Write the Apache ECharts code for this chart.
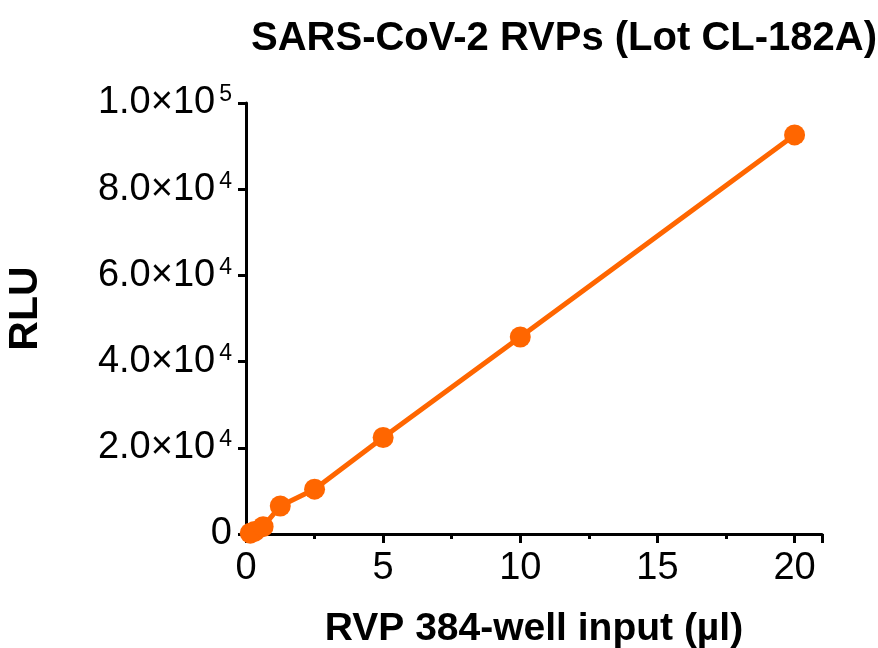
<!DOCTYPE html>
<html><head><meta charset="utf-8">
<script src="https://cdn.jsdelivr.net/npm/echarts@6/dist/echarts.min.js"></script>
<style>html,body{margin:0;padding:0;background:#fff}#c{width:878px;height:648px}</style>
</head><body><div id="c"></div>
<script>
const inputs = [0.156, 0.3125, 0.625, 1.25, 2.5, 5, 10, 20];
const rlu = [200, 600, 1700, 6500, 10400, 22400, 45700, 92600];
const xTickStep = 5;
const yTickStep = 20000;

const chart = echarts.init(document.getElementById('c'));
const font = 'Liberation Sans, Arial, sans-serif';
chart.setOption({
  animation: false,
  title: {
    text: 'SARS-CoV-2 RVPs (Lot CL-182A)',
    left: 559, top: 14, textAlign: 'center',
    textStyle: {fontFamily: font, fontWeight: 'bold', fontSize: 40, color: '#000'}
  },
  grid: {left: 246, right: 56, top: 103, bottom: 114, containLabel: false, outerBoundsMode: 'none'},
  xAxis: {
    type: 'value', min: 0, max: 21, interval: xTickStep,
    name: 'RVP 384-well input (µl)', nameLocation: 'middle', nameGap: 76,
    nameTextStyle: {fontFamily: font, fontWeight: 'bold', fontSize: 39, color: '#000'},
    axisLine: {lineStyle: {color: '#000', width: 3}},
    axisTick: {show: true, length: 9, lineStyle: {color: '#000', width: 3}},
    minorTick: {show: true, splitNumber: 2, length: 5, lineStyle: {color: '#000', width: 3}},
    splitLine: {show: false},
    axisLabel: {fontFamily: font, fontSize: 38, color: '#000', margin: 16,
      formatter: function (v) { return v > 20 ? '' : String(v); }}
  },
  yAxis: {
    type: 'value', min: 0, max: 100000, interval: yTickStep,
    name: 'RLU', nameLocation: 'middle', nameGap: 200,
    nameTextStyle: {fontFamily: font, fontWeight: 'bold', fontSize: 41, color: '#000', padding: [0, 0, 0, 20]},
    axisLine: {show: true, lineStyle: {color: '#000', width: 3}},
    axisTick: {show: true, length: 8, lineStyle: {color: '#000', width: 3}},
    splitLine: {show: false},
    axisLabel: {
      margin: 14,
      formatter: function (v) {
        if (v === 0) return '{a|0}';
        const e = Math.floor(Math.log10(v));
        const m = (v / Math.pow(10, e)).toFixed(1);
        return '{a|' + m + '×10}{b|' + e + '}';
      },
      rich: {
        a: {fontFamily: font, fontSize: 38, color: '#000'},
        b: {fontFamily: font, fontSize: 23, color: '#000', padding: [0, 0, 16, 4]}
      }
    }
  },
  series: [{
    type: 'line',
    data: inputs.map((x, i) => [x, rlu[i]]),
    symbol: 'circle', symbolSize: 21,
    itemStyle: {color: '#FF6600'},
    lineStyle: {color: '#FF6600', width: 5}
  }]
});
</script></body></html>
